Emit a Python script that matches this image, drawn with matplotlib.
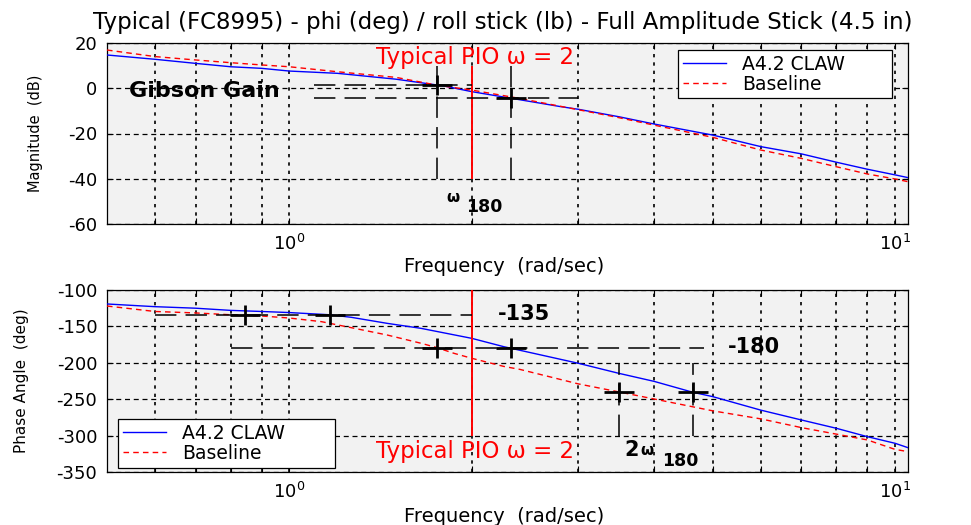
import matplotlib
matplotlib.use("Agg")
import matplotlib.pyplot as plt
from matplotlib.ticker import FixedLocator, NullFormatter, FixedFormatter

plt.rcParams["font.family"] = ["DejaVu Sans"]
plt.rcParams["axes.unicode_minus"] = False

# --- Bode data: roll attitude / stick force -------------------------------
freq_mag_claw = [0.5, 0.6, 0.7, 0.8, 0.9, 1.0, 1.2, 1.5, 1.8, 2.0, 2.32, 2.8,
                 3.0, 3.5, 4.0, 5.0, 6.0, 7.0, 8.0, 9.0, 10.0, 10.5]
mag_claw = [14.7, 12.8, 11.0, 9.5, 8.8, 7.6, 6.6, 4.0, 1.0, -1.5, -4.4, -8.1,
            -9.3, -12.6, -15.8, -20.7, -25.8, -29.0, -32.7, -35.8, -38.3, -39.5]

freq_mag_base = [0.5, 0.6, 0.7, 0.8, 0.9, 1.0, 1.2, 1.5, 1.75, 2.0, 2.4, 3.0,
                 3.5, 4.0, 5.0, 6.0, 7.0, 8.0, 9.0, 10.0, 10.5]
mag_base = [16.9, 14.0, 12.5, 11.3, 10.3, 9.5, 7.3, 4.8, 1.4, -0.8, -4.5, -9.5,
            -13.0, -16.3, -21.7, -27.3, -31.0, -34.7, -37.9, -40.1, -41.3]

freq_ph_claw = [0.5, 0.6, 0.7, 0.8, 0.9, 1.0, 1.165, 1.265, 1.45, 1.65, 2.0,
                2.26, 2.32, 3.0, 3.5, 4.0, 4.64, 5.0, 6.0, 7.0, 8.0, 9.0, 10.0, 10.5]
ph_claw = [-119.2, -122.9, -125.0, -128.0, -129.5, -131.0, -134.0, -137.5,
           -145.8, -152.7, -166.4, -177.9, -180.0, -200.7, -214.5, -225.5,
           -240.6, -246.5, -265.0, -278.5, -290.0, -301.5, -310.6, -316.6]

freq_ph_base = [0.5, 0.6, 0.7, 0.8, 0.9, 1.0, 1.13, 1.28, 1.45, 1.65, 1.75,
                1.87, 2.0, 2.26, 2.4, 3.0, 3.5, 4.0, 5.0, 6.0, 7.0, 8.0, 9.0,
                10.0, 10.5]
ph_base = [-122.0, -129.5, -131.5, -134.0, -135.7, -138.5, -143.5, -152.6,
           -161.8, -173.2, -179.0, -187.0, -193.8, -205.0, -209.0, -229.0,
           -240.0, -249.7, -266.0, -277.0, -289.0, -298.0, -306.0, -319.0,
           -322.0]

# bandwidth points (baseline, CLAW)
w180 = [1.75, 2.32]
gain_w180 = [1.4, -4.4]
w135 = [0.846, 1.165]
two_w180 = [3.5, 4.64]
phase_2w180 = [-240.0, -240.6]
pio_freq = 2.0

labels = ["A4.2 CLAW", "Baseline"]
mag_ticks = [-60, -40, -20, 0, 20]
ph_ticks = [-350, -300, -250, -200, -150, -100]

BG = "#f2f2f2"
DASH = (0, (14, 6))


def style_axes(ax, yticks, xlab_y):
    ax.set_facecolor(BG)
    ax.set_xscale("log")
    ax.set_xlim(0.5, 10.5)
    ax.set_ylim(yticks[0], yticks[-1])
    ax.set_yticks(yticks)
    ax.xaxis.set_major_locator(FixedLocator([1, 10]))
    ax.xaxis.set_major_formatter(FixedFormatter([r"$10^{0}$", r"$10^{1}$"]))
    ax.xaxis.set_minor_locator(FixedLocator([0.6, 0.7, 0.8, 0.9, 2, 3, 4, 5, 6, 7, 8, 9]))
    ax.xaxis.set_minor_formatter(NullFormatter())
    ax.tick_params(which="both", direction="in", top=True, right=True,
                   length=4, width=0.8, labelsize=13, pad=7)
    ax.grid(True, which="both", axis="x", color="k", lw=1.2, ls=(0, (2, 3)))
    ax.grid(True, which="major", axis="y", color="k", lw=0.9, ls=(0, (4, 3)))
    for s in ax.spines.values():
        s.set_linewidth(0.9)
    ax.set_xlabel("Frequency  (rad/sec)", fontsize=14, va="top")
    ax.xaxis.set_label_coords(0.496, xlab_y)


def crosshair(ax, x, y):
    ax.plot(x, y, ls="none", marker="_", ms=21, mew=2, color="k", zorder=6)
    ax.plot(x, y, ls="none", marker="|", ms=15, mew=2, color="k", zorder=6)


def legend(ax, box):
    leg = ax.legend(loc="upper left", bbox_to_anchor=box, mode="expand",
                    fontsize=13.5, frameon=True, fancybox=False, edgecolor="k",
                    framealpha=1, borderpad=0.25, labelspacing=0.05,
                    handlelength=2.3, handletextpad=0.85, borderaxespad=0)
    leg.get_frame().set_linewidth(0.9)


fig = plt.figure(figsize=(9.71, 5.25), dpi=100)
ax1 = fig.add_axes([107 / 971, 1 - 224 / 525, 801 / 971, 181 / 525])
ax2 = fig.add_axes([107 / 971, 1 - 472 / 525, 801 / 971, 182 / 525])

fig.text(503 / 971, 1 - 22 / 525,
         "Typical (FC8995) - phi (deg) / roll stick (lb) - Full Amplitude Stick (4.5 in)",
         ha="center", va="center", fontsize=16.5)

# --- magnitude -------------------------------------------------------------
style_axes(ax1, mag_ticks, -0.18)
ax1.plot(freq_mag_claw, mag_claw, color="blue", lw=1.0, label=labels[0], zorder=4)
ax1.plot(freq_mag_base, mag_base, color="red", lw=1.0, ls=(0, (4, 3)),
         label=labels[1], zorder=4)
ax1.set_ylabel("Magnitude  (dB)", fontsize=10.5)
ax1.yaxis.set_label_coords(-0.08, 0.5)

ax1.vlines(pio_freq, -40, 10, color="red", lw=1.4, zorder=5)
ax1.text(1.391, 13.6, "Typical PIO \u03c9 = 2", color="red", fontsize=16.5,
         ha="left", va="center")
ax1.hlines(gain_w180[0], 1.1, pio_freq, color="k", lw=1.1, ls=DASH, zorder=5)
ax1.hlines(gain_w180[1], 1.1, 3.0, color="k", lw=1.1, ls=DASH, zorder=5)
ax1.vlines(w180, -40, 10, color="k", lw=1.1, ls=DASH, zorder=5)
crosshair(ax1, w180, gain_w180)
ax1.text(0.543, -1.2, "Gibson Gain", fontsize=16, fontweight="bold",
         ha="left", va="center")
ax1.text(1.815, -48.5, "\u03c9", fontsize=11, fontweight="bold", ha="left", va="center")
ax1.text(1.957, -52.3, "180", fontsize=12.5, fontweight="bold", ha="left", va="center")
legend(ax1, (0.713, 0.703, 0.267, 0.258))

# --- phase -----------------------------------------------------------------
style_axes(ax2, ph_ticks, -0.19)
ax2.plot(freq_ph_claw, ph_claw, color="blue", lw=1.0, label=labels[0], zorder=4)
ax2.plot(freq_ph_base, ph_base, color="red", lw=1.0, ls=(0, (4, 3)),
         label=labels[1], zorder=4)
ax2.set_ylabel("Phase Angle  (deg)", fontsize=11)
ax2.yaxis.set_label_coords(-0.097, 0.5)

ax2.vlines(pio_freq, -300, -100, color="red", lw=1.4, zorder=5)
ax2.text(1.391, -322.5, "Typical PIO \u03c9 = 2", color="red", fontsize=16.5,
         ha="left", va="center")
ax2.hlines(-135, 0.6, pio_freq, color="k", lw=1.1, ls=DASH, zorder=5)
ax2.hlines(-180, 0.8, 4.83, color="k", lw=1.1, ls=DASH, zorder=5)
ax2.vlines(two_w180, -300, -200, color="k", lw=1.1, ls=DASH, zorder=5)
crosshair(ax2, w135, [-135, -135])
crosshair(ax2, w180, [-180, -180])
crosshair(ax2, two_w180, phase_2w180)
ax2.text(2.21, -133, "-135", fontsize=15, fontweight="bold", ha="left", va="center")
ax2.text(5.29, -178.3, "-180", fontsize=15, fontweight="bold", ha="left", va="center")
ax2.text(3.57, -319.8, "2", fontsize=15, fontweight="bold", ha="left", va="center")
ax2.text(3.80, -319.8, "\u03c9", fontsize=11, fontweight="bold", ha="left", va="center")
ax2.text(4.13, -334.5, "180", fontsize=12.5, fontweight="bold", ha="left", va="center")
legend(ax2, (0.014, 0.048, 0.271, 0.242))

fig.savefig("out.png", dpi=100, facecolor="white")
